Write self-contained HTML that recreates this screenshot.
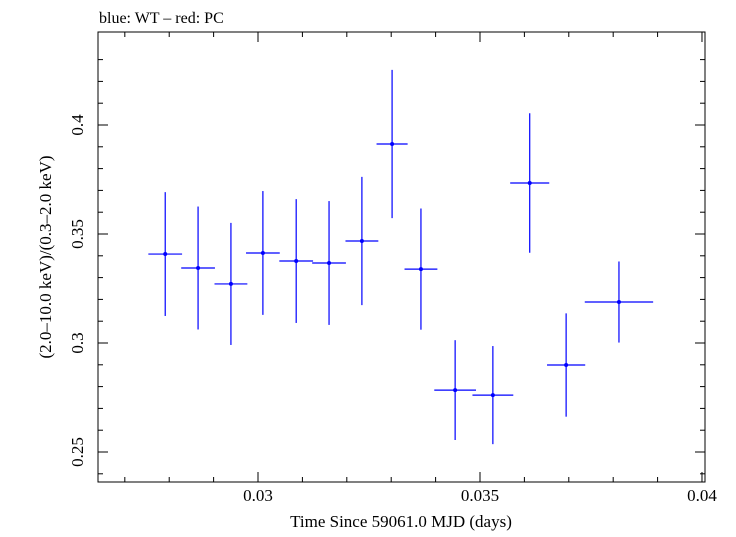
<!DOCTYPE html>
<html><head><meta charset="utf-8"><style>
body{margin:0;background:#fff}
svg text{font-family:"Liberation Serif",serif;fill:#000}
</style></head><body>
<svg width="736" height="532" xmlns="http://www.w3.org/2000/svg">
<text x="99" y="23" font-size="16">blue: WT – red: PC</text>
<rect x="98" y="32" width="607" height="450" fill="none" stroke="#000" stroke-width="1"/>
<g id="axes"></g>
<g id="marks"></g>
<text x="401" y="527" font-size="17" text-anchor="middle">Time Since 59061.0 MJD (days)</text>
<text transform="translate(51,257) rotate(-90)" font-size="17" text-anchor="middle">(2.0–10.0 keV)/(0.3–2.0 keV)</text>
</svg>
<script>
const times=[0.02791,0.02865,0.02939,0.03011,0.03086,0.03160,0.03234,0.03302,0.03367,0.03444,0.03529,0.03612,0.03694,0.03813];
const timeErr=[0.00038,0.00038,0.00037,0.00038,0.00038,0.00038,0.00037,0.00035,0.00037,0.00047,0.00046,0.00044,0.00043,0.00077];
const ratios=[0.3408,0.3344,0.3271,0.3413,0.3376,0.3367,0.3468,0.3913,0.3339,0.2784,0.2761,0.3734,0.2899,0.3188];
const ratioErr=[0.0284,0.0282,0.0280,0.0284,0.0284,0.0284,0.0294,0.0340,0.0278,0.0229,0.0225,0.0320,0.0237,0.0186];
const xTicks=["0.03","0.035","0.04"];
const yTicks=["0.25","0.3","0.35","0.4"];
const L=98,R=705,T=32,B=482,x0=0.026396,x1=0.040068,y0=0.23624,y1=0.44266;
const X=v=>L+(v-x0)/(x1-x0)*(R-L);
const Y=v=>B-(v-y0)/(y1-y0)*(B-T);
const NS="http://www.w3.org/2000/svg";
function mk(tag,attrs,parent){const e=document.createElementNS(NS,tag);for(const k in attrs)e.setAttribute(k,attrs[k]);parent.appendChild(e);return e;}
const ax=document.getElementById('axes'),mg=document.getElementById('marks');
for(let v=0.027;v<=0.0401;v+=0.001){const px=X(v);const major=Math.abs(v*200-Math.round(v*200))<1e-6;const len=major?10:5;
 const t1=mk('line',{x1:px,x2:px,y1:B,y2:B-len,stroke:'#000'},ax);
 
 
 const t2=mk('line',{x1:px,x2:px,y1:T,y2:T+len,stroke:'#000'},ax);
 
 }
xTicks.forEach(s=>{const t=mk('text',{x:X(+s),y:B+19,'font-size':17,'text-anchor':'middle'},ax);t.textContent=s;
 
 });
for(let v=0.24;v<=0.44;v+=0.01){const py=Y(v);const major=Math.abs(v*20-Math.round(v*20))<1e-6;const len=major?10:5;
 const t1=mk('line',{x1:L,x2:L+len,y1:py,y2:py,stroke:'#000'},ax);
 
 
 const t2=mk('line',{x1:R,x2:R-len,y1:py,y2:py,stroke:'#000'},ax);
 
 }
yTicks.forEach(s=>{const t=mk('text',{transform:`translate(${L-15},${Y(+s)}) rotate(-90)`,'font-size':17,'text-anchor':'middle'},ax);t.textContent=s;
 
 });
times.forEach((t,i)=>{const g=mk('g',{stroke:'#0000ff','stroke-width':1.2},mg);
 
 
 mk('line',{x1:X(t-timeErr[i]),x2:X(t+timeErr[i]),y1:Y(ratios[i]),y2:Y(ratios[i])},g);
 mk('line',{x1:X(t),x2:X(t),y1:Y(ratios[i]-ratioErr[i]),y2:Y(ratios[i]+ratioErr[i])},g);
 mk('circle',{cx:X(t),cy:Y(ratios[i]),r:2,fill:'#0000ff',stroke:'none'},g);});
</script>
</body></html>
